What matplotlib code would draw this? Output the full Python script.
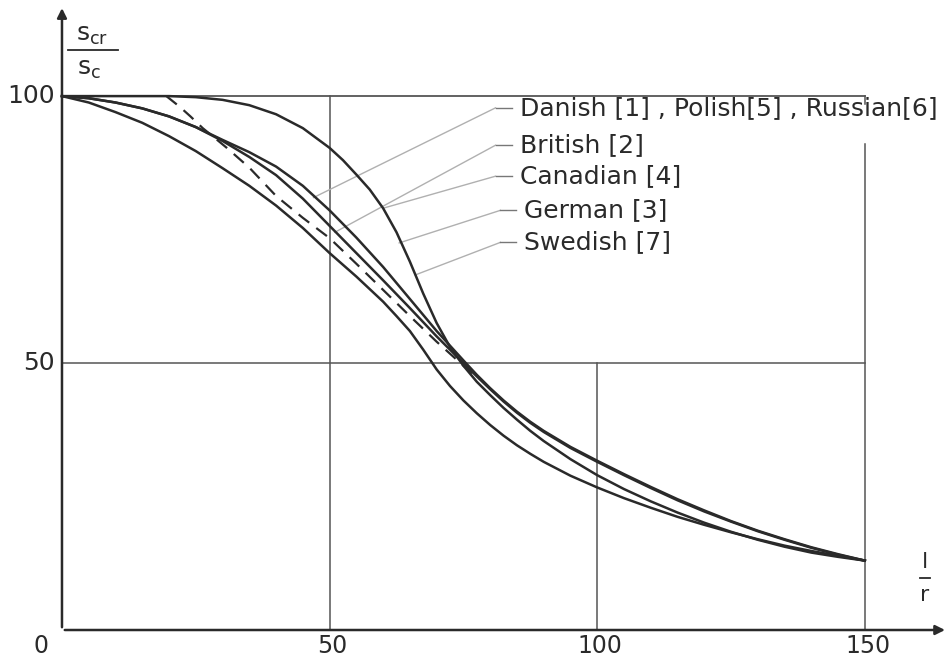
import matplotlib.pyplot as plt

# s_cr/s_c (%) against slenderness l/r

# steep curve, flat top then falls hard
steep_x = [0, 20, 25, 30, 35, 40, 45, 50, 52.5, 55, 57.5, 60, 62.5, 65, 67.5, 70, 72.5, 75, 77.5, 80,
           82.5, 85, 87.5, 90, 95, 100, 105, 110, 115, 120, 125, 130, 135, 140, 145, 150]
steep_y = [100, 100, 99.8, 99.3, 98.3, 96.6, 94, 90.3, 88, 85.3, 82.5, 79, 74.5, 69, 63, 57.5, 53, 49.5, 46.5, 44,
           41.6, 39.4, 37.3, 35.4, 32, 29, 26.4, 24.1, 22, 20.1, 18.4, 16.9, 15.6, 14.5, 13.7, 13]

# upper gentle curve from the origin
upper_x = [0, 5, 10, 15, 20, 25, 30, 35, 40, 45, 50, 55, 60, 65, 70, 75, 77.5, 80, 82.5, 85, 87.5,
           90, 95, 100, 105, 110, 115, 120, 125, 130, 135, 140, 145, 150]
upper_y = [100, 99.6, 98.8, 97.7, 96.2, 94.2, 91.8, 89.5, 86.8, 83.2, 78.6, 73.5, 68, 62, 56, 50.5, 47.8, 45.3, 43, 40.9, 39,
           37.3, 34.3, 31.7, 29.2, 26.8, 24.5, 22.4, 20.4, 18.6, 17, 15.5, 14.2, 13]

# second gentle curve, splits from the upper one near l/r = 30
second_x = [0, 5, 10, 15, 20, 25, 30, 35, 40, 45, 50, 55, 60, 65, 70, 75, 77.5, 80, 82.5, 85, 87.5,
            90, 95, 100, 105, 110, 115, 120, 125, 130, 135, 140, 145, 150]
second_y = [100, 99.6, 98.8, 97.7, 96.2, 94.2, 91.6, 88.6, 85.2, 80.8, 75.7, 70.6, 65.5, 60.3, 55, 50, 47.5, 45.1, 42.8, 40.7, 38.8,
            37.1, 34.1, 31.5, 29, 26.6, 24.3, 22.2, 20.3, 18.5, 16.9, 15.4, 14.1, 13]

# dashed curve, starts at l/r = 20
dashed_x = [19.5, 22, 24, 26.3, 28.5, 30.8, 35, 40, 45, 50, 55, 60, 65, 70, 75, 78]
dashed_y = [100, 98, 96.2, 94, 92.2, 90.3, 86.6, 81.3, 77.2, 73.4, 68.6, 63.7, 58.8, 54, 49.5, 47]

# lowest curve
lowest_x = [0, 5, 10, 15, 20, 25, 30, 35, 40, 45, 50, 55, 60, 62.5, 65, 67.5, 70, 72.5, 75, 77.5, 80,
            82.5, 85, 87.5, 90, 95, 100, 105, 110, 115, 120, 125, 130, 135, 140, 145, 150]
lowest_y = [100, 98.8, 97, 95, 92.5, 89.7, 86.5, 83.2, 79.5, 75.3, 70.6, 66.2, 61.5, 58.8, 56, 52.5, 48.8, 45.7, 43, 40.6, 38.4,
            36.4, 34.6, 33, 31.5, 28.9, 26.7, 24.7, 22.9, 21.2, 19.7, 18.3, 17, 15.8, 14.8, 13.9, 13]

x_ticks = [0, 50, 100, 150]
y_ticks = [50, 100]

labels = ['Danish [1] , Polish[5] , Russian[6]', 'British [2]', 'Canadian [4]',
          'German [3]', 'Swedish [7]']
label_pos = [(85.5, 97.8), (85.5, 90.8), (85.5, 85), (86.4, 78.6), (86.4, 72.6)]
leader_end = [(47, 81), (51, 74.5), (60, 79), (63, 72.5), (66, 66.5)]

fig = plt.figure(figsize=(9.51, 6.63), dpi=100)
ax = fig.add_axes([0, 0, 1, 1])
ax.set_xlim(-11.58, 166.1)
ax.set_ylim(-6.18, 118.0)
ax.axis('off')

ink = '#2a2a2a'
grid = '#555555'

# grid lines
ax.plot([0, 150], [100, 100], color=grid, lw=1.3)
ax.plot([0, 150], [50, 50], color=grid, lw=1.1)
ax.plot([50, 50], [0, 100], color=grid, lw=1.1)
ax.plot([100, 100], [0, 50], color=grid, lw=1.1)
ax.plot([150, 150], [0, 91], color=grid, lw=1.1)
ax.plot([150, 150], [98.5, 100], color=grid, lw=1.1)

# axes with arrows
ax.annotate('', xy=(0, 117), xytext=(0, 0),
            arrowprops=dict(arrowstyle='-|>', color=ink, lw=1.8, mutation_scale=14))
ax.annotate('', xy=(165.5, 0), xytext=(0, 0),
            arrowprops=dict(arrowstyle='-|>', color=ink, lw=1.8, mutation_scale=14))

# leader lines
for (lx, ly), (ex, ey) in zip(label_pos, leader_end):
    ax.plot([ex, lx - 4.5], [ey, ly], color='#b0b0b0', lw=1.0)
    ax.plot([lx - 4.5, lx - 1.5], [ly, ly], color='#777777', lw=1.0)

# curves
ax.plot(steep_x, steep_y, color=ink, lw=1.8)
ax.plot(upper_x, upper_y, color=ink, lw=1.8)
ax.plot(second_x, second_y, color=ink, lw=1.8)
ax.plot(lowest_x, lowest_y, color=ink, lw=1.8)
ax.plot(dashed_x, dashed_y, color=ink, lw=1.6, dashes=(6, 4))

# legend texts
for t, (lx, ly) in zip(labels, label_pos):
    ax.text(lx, ly, t, fontsize=18, color=ink, va='center', ha='left',
            fontfamily='DejaVu Sans')

# tick labels
for v in x_ticks:
    ax.text(v + (-4 if v == 0 else 0.5), -3.0, str(v), fontsize=17, color=ink,
            ha='center', va='center')
for v in y_ticks:
    ax.text(-1.3, v, str(v), fontsize=18, color=ink, ha='right', va='center')

# axis titles as fractions
ax.text(5.6, 111.5, r'$\mathregular{s_{cr}}$', fontsize=18, color=ink, ha='center', va='center')
ax.plot([1.1, 10.4], [108.6, 108.6], color=ink, lw=1.3)
ax.text(5.0, 105.0, r'$\mathregular{s_c}$', fontsize=18, color=ink, ha='center', va='center')

ax.text(161.2, 12.8, 'l', fontsize=16, color=ink, ha='center', va='center')
ax.plot([160.3, 162.1], [9.8, 9.8], color=ink, lw=1.3)
ax.text(161.2, 6.6, 'r', fontsize=16, color=ink, ha='center', va='center')

plt.savefig('out.png', dpi=100)
